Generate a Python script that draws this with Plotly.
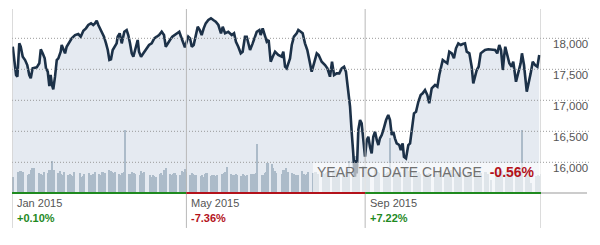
import pandas as pd
import plotly.graph_objects as go

# ---------------- data ----------------
# price: day offset from 2015-01-01 and closing value
price_day = [0.5, 1.4, 2.8, 3.7, 5.0, 6.0, 7.4, 9.0, 10.5, 11.9, 12.9, 14.2, 17.0, 18.8, 19.8, 21.1, 22.5, 23.4, 24.6, 25.7,
             26.6, 27.5, 28.4, 29.6, 30.8, 31.9, 33.5, 34.2, 35.3, 36.5, 37.6, 39.4, 41.1, 43.4, 45.6, 47.3, 49.1, 50.9, 52.5, 54.4,
             55.9, 57.1, 58.3, 59.4, 60.6, 61.7, 63.3, 64.7, 65.9, 67.0, 68.1, 69.3, 70.9, 72.0,
             72.7, 74.1, 75.5, 77.3, 78.9, 80.0, 81.2, 82.4, 83.5, 85.1, 86.5, 87.4, 88.8, 90.4, 92.7, 94.3, 96.1, 97.9, 99.6, 101.2,
             103.0, 104.6, 105.8, 107.1, 108.7, 110.3, 112.2, 114.0, 115.1, 116.3, 117.9, 119.0, 120.2, 121.3, 122.5, 123.7, 125.0,
             126.4, 127.8, 129.2, 130.5, 131.9, 133.3, 135.1, 136.9, 138.5, 140.2, 142.0, 143.8,
             145.0, 146.6, 148.8, 151.2, 152.8, 154.1, 155.7, 157.4, 158.7, 160.3, 161.5, 162.6, 163.8, 165.6, 167.2, 168.4, 170.2,
             171.1, 172.5, 174.1, 175.3, 176.6, 178.0, 179.4, 181.0, 183.2, 185.6, 186.7, 187.9, 189.0, 190.1, 191.3, 192.5, 194.0,
             195.9, 197.0, 198.7, 200.0, 201.6, 203.2, 204.6, 206.2, 207.8, 209.7, 211.0, 213.1, 215.4, 217.0, 218.8, 220.2, 221.6,
             223.4, 225.2, 226.9, 228.5, 229.8, 231.0, 232.1,
             232.6, 233.8, 234.9, 236.0, 236.7, 237.2, 238.3, 239.5, 240.6, 241.7, 242.9, 244.1, 245.2, 246.3, 247.5, 248.6, 249.8,
             251.0, 252.1, 253.2, 254.4, 255.5, 257.4, 258.9, 260.1, 261.3, 262.4, 263.5, 264.7, 266.5, 267.5, 268.8, 269.7, 271.1,
             272.7, 273.9, 275.0, 276.6, 278.0, 279.6, 281.2, 282.6, 284.2, 285.8, 287.1, 288.8, 291.1, 292.7, 294.0,
             296.4, 298.0, 299.5, 300.9, 302.6, 304.1, 305.5, 307.1, 308.8, 310.1, 311.7, 312.9, 314.7, 316.3, 317.4, 318.6, 319.8,
             321.1, 322.5, 323.9, 325.5, 327.7, 330.1, 332.4, 333.9, 335.3, 336.5, 337.7, 338.6, 339.4, 340.8, 342.2, 343.8, 344.9,
             346.8, 348.4, 350.0, 350.9, 352.3, 354.2, 355.6, 356.9, 358.3, 359.9, 361.5, 362.8]
price_close = [17864, 17650, 17408, 17381, 17919, 17864, 17703, 17650, 17569, 17408, 17355, 17516, 17532, 17597, 17823, 17758, 17677, 17516, 17461, 17231,
               17408, 17247, 17177, 17381, 17650, 17677, 17784, 17892, 17823, 17758, 17864, 17945, 18000, 18053, 18069, 18026, 18123, 18161, 18215, 18242,
               18215, 18242, 18284, 18215, 18161, 18106, 18026, 17919, 17811, 17650, 17661, 17811, 17864, 17919,
               18026, 18081, 17919, 18106, 18134, 18053, 17919, 17758, 17703, 17864, 17973, 17784, 17703, 17758, 17839, 17892, 17919, 18000, 18026, 18053,
               18106, 18053, 17864, 17919, 17973, 18026, 18053, 18081, 18106, 18026, 17919, 17855, 17945, 18026, 18000, 17864, 17892,
               18053, 18187, 18134, 18053, 18161, 18242, 18295, 18323, 18295, 18268, 18215, 18081,
               18187, 18081, 18106, 18053, 18081, 17945, 17864, 17758, 17784, 18026, 18026, 17919, 17811, 17919, 18026, 18106, 18134,
               18053, 18161, 18053, 17945, 17973, 17623, 17703, 17784, 17731, 17703, 17784, 17542, 17516, 17597, 17677, 17892, 18026,
               18081, 18134, 18106, 18081, 17919, 17811, 17650, 17461, 17597, 17758, 17731, 17623, 17569, 17516, 17381, 17623, 17408,
               17435, 17435, 17516, 17542, 17461, 17219, 17005,
               16897, 16468, 16145, 15768, 16037, 15822, 16521, 16682, 16629, 16413, 16090, 16360, 16413, 16252, 16145, 16413, 16494,
               16360, 16279, 16387, 16440, 16521, 16682, 16763, 16682, 16440, 16494, 16387, 16306, 16279, 16198, 16306, 16090, 16064,
               16279, 16306, 16521, 16790, 16816, 16977, 17085, 17113, 17166, 17085, 16952, 17194, 17247, 17219, 17408,
               17650, 17623, 17597, 17784, 17758, 17677, 17839, 17919, 17892, 17908, 17919, 17784, 17758, 17542, 17274, 17381, 17489,
               17542, 17758, 17784, 17811, 17823, 17811, 17811, 17758, 17892, 17811, 17489, 17703, 17864, 17731, 17597, 17542, 17623,
               17300, 17435, 17597, 17758, 17569, 17139, 17274, 17435, 17623, 17569, 17542, 17731]

# NYSE holidays 2015 (used to list the trading days for the volume bars)
holidays = ["2015-01-01", "2015-01-19", "2015-02-16", "2015-04-03", "2015-05-25",
            "2015-07-03", "2015-09-07", "2015-11-26", "2015-12-25"]

# daily volume (millions), Jan..Dec
volume_m = [78, 102, 96, 104, 90, 98, 88, 92, 108, 118, 120, 96, 90, 86, 100, 94, 108, 100, 152, 110,
            96, 104, 92, 88, 100, 84, 90, 86, 80, 98, 94, 78, 82, 90, 96, 88, 84, 92, 100,
            92, 88, 98, 102, 96, 110, 104, 100, 94, 98, 90, 88, 96, 100, 300, 92, 86, 100, 94, 90, 88, 104,
            96, 100, 84, 78, 86, 80, 76, 90, 94, 88, 110, 118, 92, 86, 90, 96, 88, 84, 104, 100, 112,
            98, 86, 94, 90, 84, 88, 80, 86, 78, 90, 94, 82, 88, 84, 80, 86, 92, 96, 100, 124,
            90, 86, 88, 92, 84, 82, 90, 86, 80, 84, 92, 86, 90, 94, 233, 88, 84, 96, 100, 142, 138, 118,
            104, 96, 92, 110, 108, 120, 100, 94, 90, 86, 88, 84, 104, 90, 86, 92, 98, 96, 90, 100, 88, 92,
            96, 90, 94, 98, 102, 100, 108, 112, 104, 96, 92, 90, 100, 110, 150, 190, 175, 155, 140, 118, 130,
            130, 112, 100, 96, 108, 98, 102, 94, 90, 92, 96, 100, 262, 110, 104, 96, 100, 102, 108, 112, 118,
            104, 110, 100, 106, 96, 98, 92, 88, 86, 90, 94, 92, 96, 98, 92, 100, 108, 96, 94, 100, 104, 108,
            92, 96, 98, 94, 100, 90, 86, 96, 98, 94, 108, 96, 92, 98, 94, 100, 86, 90, 60, 98,
            100, 104, 110, 106, 98, 102, 108, 100, 112, 116, 110, 120, 108, 300, 100, 92, 88, 50, 80, 86, 82, 90]

y_ticks = [16000, 16500, 17000, 17500, 18000]
y_tick_labels = ["16,000", "16,500", "17,000", "17,500", "18,000"]

period_starts = ["2015-01-01", "2015-05-01", "2015-09-01"]
period_labels = ["Jan 2015", "May 2015", "Sep 2015"]
period_changes = ["+0.10%", "-7.36%", "+7.22%"]
x_end = "2015-12-31"

ytd_label = "YEAR TO DATE CHANGE"
ytd_change = "-0.56%"

# ---------------- derived ----------------
start = pd.Timestamp("2015-01-01")
price_x = [start + pd.Timedelta(days=d) for d in price_day]
trade_days = [d for d in pd.bdate_range("2015-01-01", "2015-12-31") if d.strftime("%Y-%m-%d") not in holidays]
n = min(len(trade_days), len(volume_m))
trade_days = trade_days[:n]
volume_m = volume_m[:n]

GREEN = "#1f8a1f"
RED = "#b3121b"
LINE = "#1c3148"
FILL = "#e5eaf1"
BAR = "#acbbc9"
GRID = "#9a9a9a"
VLINE = "#b8b8b8"
TXT = "#555555"
FONT = "Liberation Sans, Arial, sans-serif"

Y_RANGE = [15505, 18473]
V_RANGE = [0, 876]

fig = go.Figure()
fig.add_trace(go.Scatter(x=price_x, y=price_close, mode="lines", line=dict(width=0, color=FILL),
                         fill="tozeroy", fillcolor=FILL, hoverinfo="skip", yaxis="y"))
fig.add_trace(go.Bar(x=trade_days, y=volume_m, marker=dict(color=BAR, line=dict(width=0)),
                     width=1.1 * 86400000, yaxis="y2"))
fig.add_trace(go.Scatter(x=price_x, y=price_close, mode="lines", line=dict(width=2.6, color=LINE),
                         yaxis="y3"))

shapes = []
# dotted horizontal gridlines (extend past the plot into the label column)
for v in y_ticks:
    shapes.append(dict(type="line", xref="paper", yref="y", x0=0, x1=1.093, y0=v, y1=v,
                       line=dict(color=GRID, width=1, dash="1px,2px"), layer="above"))
# vertical period lines
for d in period_starts + [x_end]:
    shapes.append(dict(type="line", xref="x", yref="paper", x0=d, x1=d, y0=-0.19, y1=1,
                       line=dict(color=VLINE, width=1), layer="above"))
# ytd box
shapes.append(dict(type="rect", xref="paper", yref="paper", x0=(313 - 12) / 529, x1=1.0,
                   y0=(193 - 192) / 184, y1=(193 - 163) / 184,
                   fillcolor="rgba(255,255,255,0.62)", line=dict(width=0), layer="above"))
# coloured baseline segments
seg_bounds = period_starts + [x_end]
seg_colors = [GREEN if c.startswith("+") else RED for c in period_changes]
for i in range(3):
    shapes.append(dict(type="line", xref="x", yref="paper", x0=seg_bounds[i], x1=seg_bounds[i + 1],
                       y0=0, y1=0, line=dict(color=seg_colors[i], width=2), layer="above"))
# grey axis continuation
shapes.append(dict(type="line", xref="paper", yref="paper", x0=1.0, x1=1.087, y0=0, y1=0,
                   line=dict(color="#999999", width=1), layer="above"))

annotations = []
for v, lab in zip(y_ticks, y_tick_labels):
    annotations.append(dict(xref="paper", yref="y", x=(551 - 12) / 529, y=v, yshift=-6,
                            text=lab, showarrow=False, xanchor="left", yanchor="middle",
                            font=dict(family=FONT, size=11.5, color=TXT)))
for d, lab, ch, col in zip(period_starts, period_labels, period_changes, seg_colors):
    annotations.append(dict(xref="x", yref="paper", x=d, y=(193 - 203) / 184, xshift=3,
                            text=lab, showarrow=False, xanchor="left", yanchor="middle",
                            font=dict(family=FONT, size=11, color=TXT)))
    annotations.append(dict(xref="x", yref="paper", x=d, y=(193 - 218) / 184, xshift=3,
                            text="<b>" + ch + "</b>", showarrow=False, xanchor="left", yanchor="middle",
                            font=dict(family=FONT, size=11, color=col)))
annotations.append(dict(xref="paper", yref="paper", x=(315 - 12) / 529, y=(193 - 172) / 184,
                        text=ytd_label + "  <b><span style='color:" + RED + "'>" + ytd_change + "</span></b>",
                        showarrow=False, xanchor="left", yanchor="middle",
                        font=dict(family=FONT, size=14, color="#707070")))

fig.update_layout(
    width=600, height=245,
    margin=dict(l=12, r=59, t=9, b=52),
    paper_bgcolor="white", plot_bgcolor="white",
    showlegend=False, bargap=0,
    xaxis=dict(range=["2015-01-01", x_end], showgrid=False, zeroline=False, showticklabels=False,
               showline=False, ticks=""),
    yaxis=dict(range=Y_RANGE, showgrid=False, zeroline=False, showticklabels=False, showline=False),
    yaxis2=dict(range=V_RANGE, overlaying="y", showgrid=False, zeroline=False, showticklabels=False,
                showline=False),
    yaxis3=dict(range=Y_RANGE, overlaying="y", showgrid=False, zeroline=False, showticklabels=False,
                showline=False),
    shapes=shapes, annotations=annotations,
)
fig.write_html("out.html")
